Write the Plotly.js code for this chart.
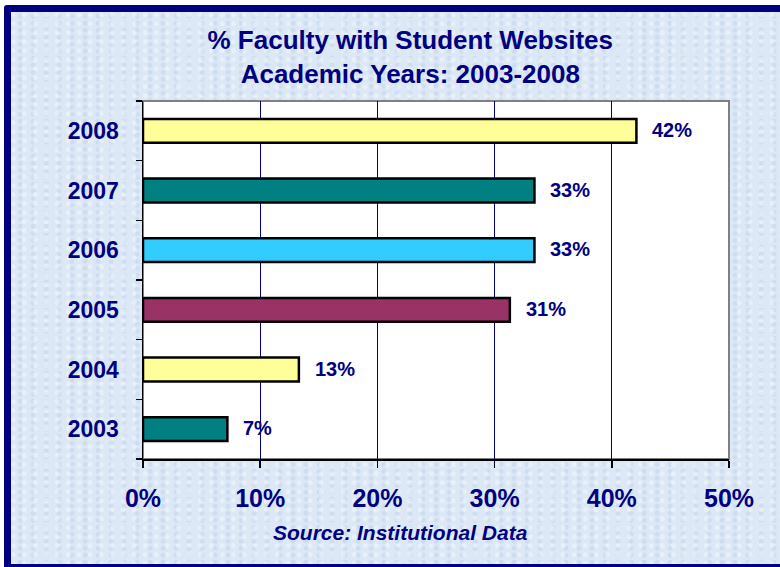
<!DOCTYPE html>
<html><head><meta charset="utf-8">
<script src="https://cdn.plot.ly/plotly-3.0.1.min.js"></script>
<style>
html,body{margin:0;padding:0;background:#fff;width:780px;height:567px;overflow:hidden;}
#frame{position:absolute;left:4px;top:5px;width:790px;height:552px;border:7px solid #000080;border-radius:3px;
background-color:#dce8f6;
background-image:radial-gradient(circle at 20% 30%, rgba(255,255,255,0.35) 0 2px, transparent 3px),
radial-gradient(circle at 70% 60%, rgba(175,195,225,0.3) 0 2px, transparent 3px);
background-size:11px 9px, 13px 7px;}
#chart{position:absolute;left:0;top:0;width:780px;height:567px;}
</style></head>
<body>
<div id="frame"></div>
<div id="chart"></div>
<script>
var years = ['2003','2004','2005','2006','2007','2008'];
var values = [7.2, 13.3, 31.3, 33.4, 33.4, 42.1];
var labels = ['7%','13%','31%','33%','33%','42%'];
var colors = ['#008080','#FFFF99','#993366','#33CCFF','#008080','#FFFF99'];
var xTickVals = [0,10,20,30,40,50];
var xTickText = ['0%','10%','20%','30%','40%','50%'];

var navy = '#000080';
var font = 'Arial, Liberation Sans, sans-serif';
var trace = {
  type:'bar', orientation:'h', y:years, x:values, width:0.4,
  marker:{color:colors, line:{color:'#000', width:2.5}},
  hoverinfo:'none'
};
var ann = years.map(function(y,i){
  return {x:values[i], y:i, xref:'x', yref:'y', text:labels[i], showarrow:false,
    xanchor:'left', xshift:14, yshift:1, font:{family:font, size:20, color:navy, weight:'bold'}};
});
ann.push({xref:'paper', yref:'paper', x:0.44, y:-0.205, xanchor:'center', yanchor:'middle',
  text:'<b><i>Source: Institutional Data</i></b>', showarrow:false,
  font:{family:font, size:21, color:navy}});
var layout = {
  width:780, height:567,
  margin:{l:143, r:51, t:101, b:108, pad:0},
  paper_bgcolor:'rgba(0,0,0,0)', plot_bgcolor:'#fff',
  showlegend:false,
  title:{text:'<b>% Faculty with Student Websites<br>Academic Years: 2003-2008</b>',
    x:0.526, xanchor:'center', y:0.913, yanchor:'top',
    font:{family:font, size:26, color:navy}},
  xaxis:{range:[0,50], tickvals:xTickVals, ticktext:xTickText, showgrid:true, gridcolor:navy, gridwidth:1,
    showline:true, linecolor:'#000', linewidth:1.5, ticks:'outside', ticklen:7, tickcolor:'#000', tickwidth:1.5,
    ticklabelstandoff:9,
    tickfont:{family:font, size:25, color:navy, weight:'bold'}, zeroline:false, fixedrange:true},
  yaxis:{type:'category', categoryorder:'array', categoryarray:years, range:[-0.5,5.5], autorange:false, showgrid:false,
    showline:true, linecolor:'#000', linewidth:1.5, ticks:'outside', tickson:'boundaries', ticklen:6, tickcolor:'#000', tickwidth:1.5,
    ticklabelstandoff:18,
    tickfont:{family:font, size:23, color:navy, weight:'bold'}, fixedrange:true},
  shapes:[{type:'rect', xref:'paper', yref:'paper', x0:0, x1:1, y0:0, y1:1, line:{color:'#808080', width:2}, layer:'below'}],
  annotations:ann
};
Plotly.newPlot('chart',[trace],layout,{displayModeBar:false, staticPlot:true});
</script>
</body></html>
